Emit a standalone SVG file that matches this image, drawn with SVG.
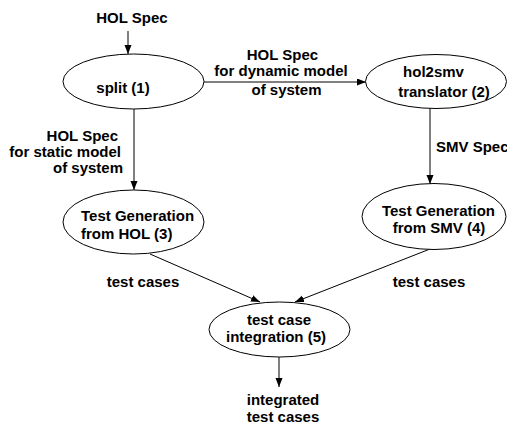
<svg xmlns="http://www.w3.org/2000/svg" width="507" height="424" viewBox="0 0 507 424">
<defs>
<style>
text{font-family:"Liberation Sans",Arial,sans-serif;font-weight:bold;font-size:15px;fill:#000}
.m{text-anchor:middle}
.e{text-anchor:end}
ellipse{fill:#fff;stroke:#000;stroke-width:1}
.c line{stroke:#000;stroke-width:1;marker-end:url(#ah)}
</style>
<marker id="ah" markerUnits="userSpaceOnUse" markerWidth="10" markerHeight="8" refX="9" refY="3.5" orient="auto">
<path d="M0,0 L9,3.5 L0,7 Z" fill="#000"/>
</marker>
</defs>
<rect width="507" height="424" fill="#fff"/>
<g id="connectors" class="c">
<line x1="128" y1="31" x2="128" y2="54"/>
<line x1="204" y1="82" x2="366" y2="82"/>
<line x1="134" y1="109" x2="134" y2="190"/>
<line x1="430" y1="108" x2="430" y2="184"/>
<line x1="150" y1="254" x2="260" y2="302"/>
<line x1="430" y1="249" x2="295" y2="302"/>
<line x1="279" y1="357" x2="279" y2="387"/>
</g>
<g id="labels">
<text class="m" x="132" y="23">HOL Spec</text>
<text class="m" x="282.5" y="60">HOL Spec</text>
<text class="m" x="281" y="76">for dynamic model</text>
<text class="m" x="286.5" y="95">of system</text>
<text class="e" x="118" y="141">HOL Spec</text>
<text class="e" x="121" y="157">for static model</text>
<text class="e" x="123" y="173">of system</text>
<text x="436" y="152">SMV Spec</text>
<text class="m" x="143" y="287">test cases</text>
<text class="m" x="429" y="287">test cases</text>
<text class="m" x="283" y="405">integrated</text>
<text class="m" x="283" y="422">test cases</text>
</g>
<g id="n1">
<ellipse cx="133.5" cy="81.5" rx="70.5" ry="27.5"/>
<text class="m" x="123" y="93">split (1)</text>
</g>
<g id="n2">
<ellipse cx="436" cy="81.5" rx="70.5" ry="27"/>
<text class="m" x="433.5" y="77">hol2smv</text>
<text class="m" x="444" y="97">translator (2)</text>
</g>
<g id="n3">
<ellipse cx="133.5" cy="222" rx="70.5" ry="32"/>
<text x="81" y="221">Test Generation</text>
<text x="81" y="239">from HOL (3)</text>
</g>
<g id="n4">
<ellipse cx="434" cy="216.5" rx="72" ry="33"/>
<text class="m" x="438.5" y="216">Test Generation</text>
<text class="m" x="439" y="233">from SMV (4)</text>
</g>
<g id="n5">
<ellipse cx="279.5" cy="329.5" rx="70.5" ry="27.5"/>
<text class="m" x="279" y="325">test case</text>
<text class="m" x="276" y="342">integration (5)</text>
</g>
</svg>
